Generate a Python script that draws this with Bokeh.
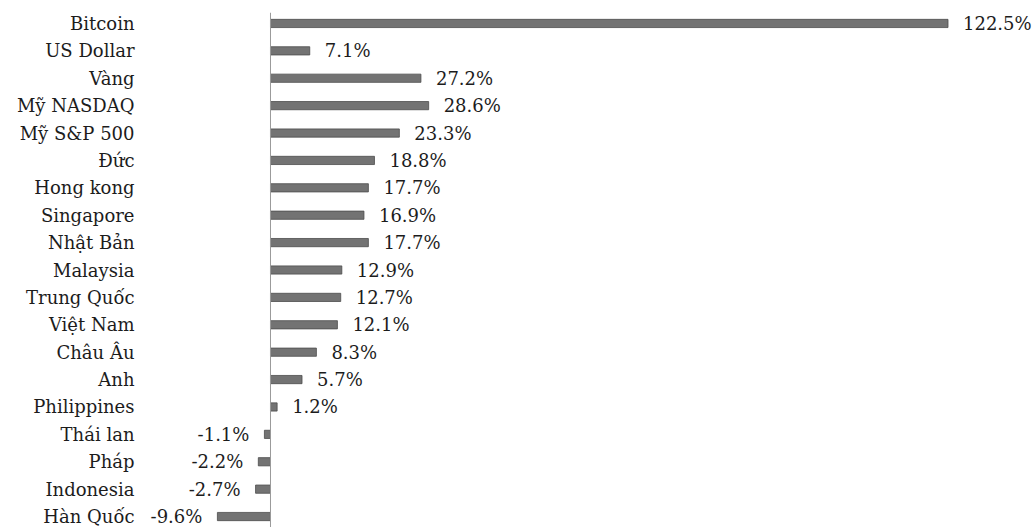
from bokeh.plotting import figure
from bokeh.models import ColumnDataSource, FactorRange, Range1d, Span
from bokeh.core.properties import value
from bokeh.embed import file_html
from bokeh.resources import INLINE

categories = ["Bitcoin", "US Dollar", "Vàng", "Mỹ NASDAQ", "Mỹ S&P 500", "Đức",
              "Hong kong", "Singapore", "Nhật Bản", "Malaysia", "Trung Quốc",
              "Việt Nam", "Châu Âu", "Anh", "Philippines", "Thái lan", "Pháp",
              "Indonesia", "Hàn Quốc"]
values = [122.5, 7.1, 27.2, 28.6, 23.3, 18.8, 17.7, 16.9, 17.7, 12.9, 12.7,
          12.1, 8.3, 5.7, 1.2, -1.1, -2.2, -2.7, -9.6]
labels = [f"{v:.1f}%" for v in values]

FONT = "DejaVu Serif"
FSIZE = "18px"
TXT = "#1c1c1c"

pos = [i for i, v in enumerate(values) if v >= 0]
neg = [i for i, v in enumerate(values) if v < 0]

src = ColumnDataSource(dict(cat=categories, val=values, lab=labels))
src_pos = ColumnDataSource(dict(cat=[categories[i] for i in pos],
                                val=[values[i] for i in pos],
                                lab=[labels[i] for i in pos]))
src_neg = ColumnDataSource(dict(cat=[categories[i] for i in neg],
                                val=[values[i] for i in neg],
                                lab=[labels[i] for i in neg]))

p = figure(width=1036, height=527, output_backend="svg", toolbar_location=None,
           y_range=FactorRange(*reversed(categories), range_padding=-0.1,
                               range_padding_units="absolute"),
           x_range=Range1d(-22.78, 138.5),
           min_border_left=144, min_border_right=0, min_border_top=12,
           min_border_bottom=0)
p.outline_line_color = None
p.grid.visible = False
p.xaxis.visible = False
p.background_fill_color = "white"
p.border_fill_color = "white"

yax = p.yaxis[0]
yax.axis_line_color = None
yax.major_tick_line_color = None
yax.minor_tick_line_color = None
yax.major_label_text_font = FONT
yax.major_label_text_font_size = FSIZE
yax.major_label_text_color = TXT
yax.major_label_standoff = 4

p.hbar(y="cat", left=0, right="val", height=0.3, source=src,
       fill_color="#737373", line_color="#4d4d4d", line_width=0.8)

p.add_layout(Span(location=0, dimension="height", line_color="#9a9a9a",
                  line_width=1))

p.text(x="val", y="cat", text="lab", source=src_pos, x_offset=15,
       text_align="left", text_baseline="middle", text_font=value(FONT),
       text_font_size=FSIZE, text_color=TXT)
p.text(x="val", y="cat", text="lab", source=src_neg, x_offset=-15,
       text_align="right", text_baseline="middle", text_font=value(FONT),
       text_font_size=FSIZE, text_color=TXT)

open("out.html", "w").write(file_html(p, INLINE))
